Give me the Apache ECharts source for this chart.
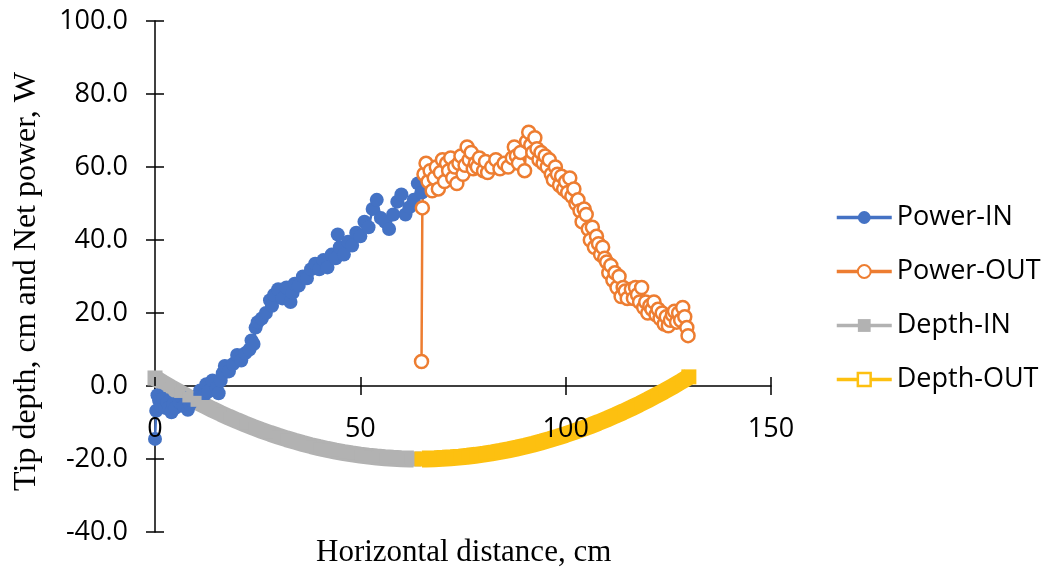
<!DOCTYPE html>
<html>
<head>
<meta charset="utf-8">
<script src="https://cdn.jsdelivr.net/npm/echarts@6/dist/echarts.min.js"></script>
<style>
html,body{margin:0;padding:0;background:#fff;}
#chart{width:1047px;height:575px;}
</style>
</head>
<body>
<div id="chart"></div>
<script>
// ---- Data ----
const seriesNames = ['Power-IN', 'Power-OUT', 'Depth-IN', 'Depth-OUT'];

// Power-IN: [horizontal distance cm, net power W]
const powerIn = [
  [0,-14.5],[0.3,-6.8],[0.6,-2.5],[1,-4],[1.5,-5.5],[2,-3.5],[2.5,-6],[3,-4.5],[3.5,-5.8],[4,-7.2],
  [4.5,-5],[5,-6],[6,-4.5],[6.5,-3],[7,-5.5],[8,-6.5],[8.5,-5],[9,-4],[10,-3.5],[11,-1.2],
  [12,-2.5],[12.5,0.5],[13,-1.5],[14,1.5],[15,-0.5],[15.5,-2],[16,1.5],[16.5,3.5],[17,5.5],[18,4],
  [19,6],[20,8.5],[21,7],[22,9],[23,10],[23.5,12.5],[24,11.5],[24.5,16],[25,17.5],[26,18.5],
  [27,20],[28,23.5],[28.5,22],[29,25],[30,26.5],[31,24],[32,27],[33,23],[33.5,25.5],[34,28],
  [35,27.5],[36,30],[37,29.5],[38,32],[39,33.5],[40,32],[41,34.5],[42,32.5],[43,36],[44,35],
  [44.5,41.5],[45,38],[46,36],[47,39.5],[48,38.5],[49,42],[50,41],[51,45],[52,43.5],[53,48.5],
  [54,51],[55,46],[56,45],[57,43],[58,47],[59,50.5],[60,52.5],[61,47],[62,49],[63,51],[64,55.5],[65,53]
];

// Power-OUT: [horizontal distance cm, net power W]
const powerOut = [
  [64.9,6.7],[65.1,48.8],[65.5,58],[66,61],[66.5,56],[67,59],[67.5,53.5],[68,57],[68.5,60],[69,54],
  [69.5,58.5],[70,62],[70.5,56],[71,61],[71.5,59],[72,62.5],[72.5,57],[73,60],[73.5,55.5],[74,61],
  [74.5,63],[75,58],[75.5,60.5],[76,65.5],[76.5,62],[77,64],[77.5,59.5],[78,61],[78.5,60],[79,62.5],
  [80,59],[80.5,61.5],[81,58.5],[82,60],[83,62],[84,59.5],[85,61],[86,60],[87,62.5],[87.5,65.5],
  [88,63],[88.5,61],[89,64],[90,59],[90.5,67],[91,69.5],[91.5,66],[92,64],[92.5,68],[93,65],
  [93.5,62],[94,64],[94.5,61],[95,63],[95.5,60],[96,62],[96.5,58],[97,56.5],[97.5,60],[98,58],
  [98.5,55],[99,57.5],[99.5,54],[100,56],[100.5,53],[101,57],[101.5,52],[102,54],[102.5,50],[103,51],
  [103.5,48],[104,45],[104.5,48.5],[105,47],[105.5,43],[106,40],[106.5,43.5],[107,38],[107.5,41],[108,39],
  [108.5,36],[109,38],[109.5,35],[110,34],[110.5,31],[111,33],[111.5,29],[112,31],[112.5,27],[113,30],
  [113.5,24.5],[114,27],[114.5,26],[115,24],[116,26.5],[116.5,24],[117,27],[117.5,25],[118,23],[118.5,27],
  [119,21.5],[119.5,23],[120,20],[120.5,22],[121,21],[121.5,23],[122,19.5],[122.5,21],[123,18.5],[123.5,20],
  [124,17],[124.5,19],[125,16.5],[125.5,18],[126,19.5],[126.5,20.5],[127,17.5],[127.5,20],[128,18],[128.5,21.5],
  [129,19],[129.5,16],[129.8,13.8]
];

// Depth-IN: x (cm) and tip depth (cm)
const depthInX = [0,2,4,6,8,10,12,14,16,18,20,22,24,26,28,30,32,34,36,38,40,42,44,46,48,50,52,54,56,58,60,62,63];
const depthInY = [2.2,0.83,-0.49,-1.77,-3.0,-4.2,-5.34,-6.45,-7.51,-8.53,-9.51,-10.44,-11.33,-12.17,-12.98,-13.73,-14.45,-15.12,-15.75,-16.34,-16.88,-17.38,-17.83,-18.24,-18.61,-18.94,-19.22,-19.46,-19.65,-19.8,-19.91,-19.98,-20.0];

// Depth-OUT: x (cm) and tip depth (cm)
const depthOutX = [65,66,68,70,72,74,76,78,80,82,84,86,88,90,92,94,96,98,100,102,104,106,108,110,112,114,116,118,120,122,124,126,128,130];
const depthOutY = [-19.99,-19.98,-19.92,-19.81,-19.67,-19.48,-19.26,-18.99,-18.68,-18.33,-17.93,-17.5,-17.02,-16.51,-15.95,-15.35,-14.71,-14.03,-13.31,-12.54,-11.74,-10.89,-10.0,-9.07,-8.1,-7.09,-6.03,-4.94,-3.8,-2.62,-1.41,-0.15,1.16,2.5];

// Axis ticks
const xMin = 0, xMax = 150, xStep = 50;
const yMin = -40, yMax = 100, yStep = 20;

// ---- Chart ----
const zip = (xs, ys) => xs.map((x, i) => [x, ys[i]]);
// end markers of the dense depth bands are drawn a bit larger (square caps)
const withCaps = (pts, capSize) => pts.map((p, i) =>
  (i === 0 || i === pts.length - 1) ? {value: p, symbolSize: capSize} : p);

const BLUE = '#4472C4', ORANGE = '#ED7D31', GRAY = '#B2B2B2', GOLD = '#FDC010';
const labelFont = '"Open Sans", "Noto Sans", sans-serif';
const titleFont = '"Liberation Serif", "DejaVu Serif", serif';

const GRID_TOP = 21, GRID_BOTTOM = 43, H = 575;
const plotH = H - GRID_TOP - GRID_BOTTOM;
// shift of the horizontal axis from the plot bottom up to the y = 0 line
const xAxisShift = -plotH * (0 - yMin) / (yMax - yMin);

const chart = echarts.init(document.getElementById('chart'), null, {renderer: 'canvas'});

const axisLineStyle = {color: '#000', width: 1.5};

chart.setOption({
  animation: false,
  backgroundColor: '#fff',
  grid: {left: 155, right: 276, top: GRID_TOP, bottom: GRID_BOTTOM, containLabel: false, outerBoundsMode: 'none'},
  legend: {
    orient: 'vertical',
    left: 830,
    top: 199,
    itemWidth: 55,
    itemHeight: 16,
    itemGap: 27,
    textStyle: {fontFamily: labelFont, fontSize: 27, color: '#000'},
    lineStyle: {width: 3.5},
    data: [
      {name: 'Power-IN'},
      {name: 'Power-OUT'},
      {name: 'Depth-IN'},
      {name: 'Depth-OUT', itemStyle: {color: '#fff', borderColor: GOLD, borderWidth: 2.5}}
    ]
  },
  xAxis: [
    {
      // axis line and outward ticks, drawn beneath the series
      type: 'value', min: xMin, max: xMax, interval: xStep, position: 'bottom', offset: xAxisShift,
      axisLine: {show: true, onZero: false, lineStyle: axisLineStyle},
      axisTick: {show: true, inside: false, length: 9, lineStyle: axisLineStyle},
      axisLabel: {show: false},
      splitLine: {show: false}
    },
    {
      // inward ticks and tick labels, drawn above the series
      type: 'value', min: xMin, max: xMax, interval: xStep, position: 'bottom', offset: xAxisShift,
      z: 10,
      axisLine: {show: false, onZero: false},
      axisTick: {show: true, inside: true, length: 9, lineStyle: axisLineStyle},
      axisLabel: {show: true, margin: 30, fontFamily: labelFont, fontSize: 27, color: '#000'},
      splitLine: {show: false}
    }
  ],
  yAxis: [
    {
      type: 'value', min: yMin, max: yMax, interval: yStep, position: 'left',
      axisLine: {show: true, onZero: false, lineStyle: axisLineStyle},
      axisTick: {show: true, inside: false, length: 9, lineStyle: axisLineStyle},
      axisLabel: {show: true, margin: 27, fontFamily: labelFont, fontSize: 27, color: '#000',
        formatter: v => v.toFixed(1)},
      splitLine: {show: false},
      name: 'Tip depth, cm and Net power, W',
      nameLocation: 'middle',
      nameGap: 112,
      nameRotate: 90,
      nameMoveOverlap: false,
      nameTextStyle: {fontFamily: titleFont, fontSize: 32, color: '#000', padding: [0, 10, 0, 0]}
    },
    {
      type: 'value', min: yMin, max: yMax, interval: yStep, position: 'left',
      axisLine: {show: false, onZero: false},
      axisTick: {show: true, inside: true, length: 9, lineStyle: axisLineStyle},
      axisLabel: {show: false},
      splitLine: {show: false}
    }
  ],
  graphic: [
    {
      type: 'text',
      left: 316,
      top: 537,
      style: {text: 'Horizontal distance, cm', fontFamily: titleFont, fontSize: 31, fill: '#000'}
    }
  ],
  series: [
    {
      name: seriesNames[0], type: 'line', data: powerIn,
      symbol: 'circle', symbolSize: 14, showAllSymbol: true, clip: false,
      itemStyle: {color: BLUE},
      lineStyle: {color: BLUE, width: 2.5}
    },
    {
      name: seriesNames[1], type: 'line', data: powerOut,
      symbol: 'circle', symbolSize: 13, showAllSymbol: true, clip: false,
      itemStyle: {color: '#fff', borderColor: ORANGE, borderWidth: 2.5},
      lineStyle: {color: ORANGE, width: 2.5}
    },
    {
      name: seriesNames[2], type: 'line', data: withCaps(zip(depthInX, depthInY), 15),
      symbol: 'rect', symbolSize: 11, showAllSymbol: true, clip: false,
      itemStyle: {color: GRAY},
      lineStyle: {color: GRAY, width: 17}
    },
    {
      name: seriesNames[3], type: 'line', data: withCaps(zip(depthOutX, depthOutY), 15),
      symbol: 'rect', symbolSize: 11, showAllSymbol: true, clip: false,
      itemStyle: {color: GOLD},
      lineStyle: {color: GOLD, width: 17}
    }
  ]
});
</script>
</body>
</html>
